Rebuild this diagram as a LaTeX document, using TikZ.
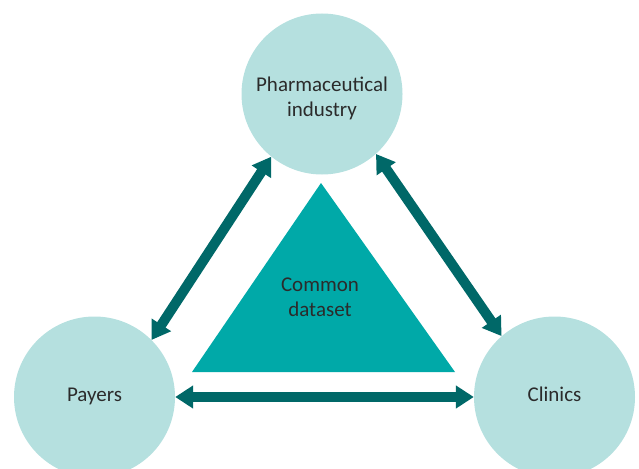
\documentclass[tikz,border=0pt]{standalone}
\usepackage{fontspec}
\setmainfont{Carlito}
\usetikzlibrary{arrows.meta}
\definecolor{circfill}{HTML}{B5E0DF}
\definecolor{trifill}{HTML}{00A9A8}
\definecolor{arrowcol}{HTML}{006868}
\definecolor{txt}{HTML}{2B2B2B}
\tikzset{
  party/.style={circle, fill=circfill, draw=none, minimum size=161pt, inner sep=0pt,
    align=center, text=txt, font=\fontsize{21}{25}\selectfont, text height=13pt, text depth=4pt},
  link/.style={draw=arrowcol, line width=10pt,
    {Triangle[length=18pt,width=22pt]}-{Triangle[length=18pt,width=22pt]}},
  lbl/.style={align=center, text=txt, font=\fontsize{21}{25}\selectfont}
}
\begin{document}
\begin{tikzpicture}[x=1pt,y=-1pt]
\useasboundingbox (0,0) rectangle (639,468);
\node[party] (pharma) at (322,94) {};
\node[lbl] (pharmatext) at (322,98) {Pharmaceutical\\industry};
\node[party] (payers) at (94.5,397) {Payers};
\node[party] (clinics) at (554.5,397) {Clinics};
\fill[trifill] (321,183) -- (455,372) -- (192,372) -- cycle;
\node[lbl] (common) at (320,297) {Common\\dataset};
\draw[link] (pharma.231.7) -- (payers.45.7);
\draw[link] (pharma.312) -- (clinics.131.2);
\draw[link] (payers.east) -- (clinics.west);
\end{tikzpicture}
\end{document}
